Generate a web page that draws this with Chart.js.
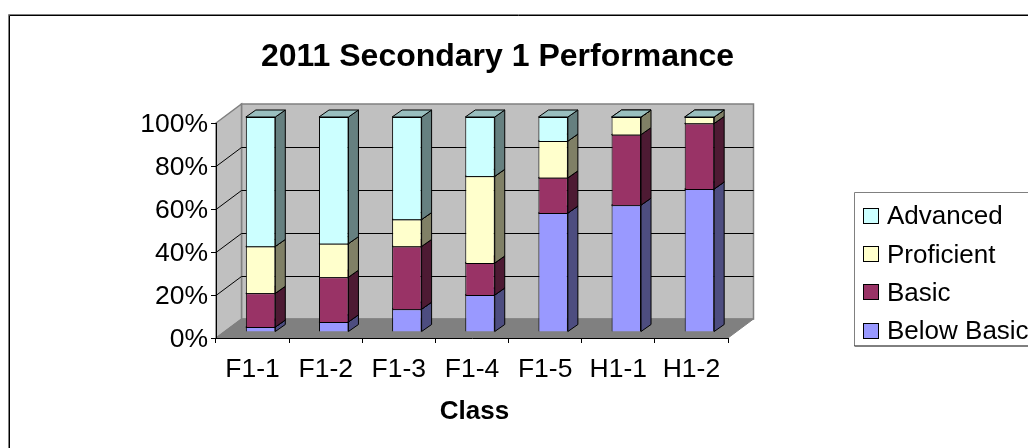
<!DOCTYPE html>
<html>
<head>
<meta charset="utf-8">
<style>html,body{margin:0;padding:0;background:#fff;overflow:hidden}canvas{display:block}</style>
<script src="https://cdn.jsdelivr.net/npm/chart.js@4"></script>
</head>
<body>
<canvas id="c" width="1028" height="448" style="width:1028px;height:448px"></canvas>
<script>
const categories = ['F1-1','F1-2','F1-3','F1-4','F1-5','H1-1','H1-2'];
const belowBasic = [2.3,4.7,10.6,17.2,55.3,59.0,66.5];
const basic      = [15.7,20.8,29.2,14.9,16.4,32.8,30.5];
const proficient = [21.8,15.6,12.5,40.3,17.1,8.2,3.0];
const advanced   = [60.2,58.9,47.7,27.6,11.2,0,0];
const yTicks = [0,20,40,60,80,100];
const FONT = "'Liberation Sans', Arial, sans-serif";
const WALL = {dx:25.5, dy:-19};
const BAR = {dx:8, dy:-6, depthX:10, depthY:-7};

function shade(hex, k){
  const n=parseInt(hex.slice(1),16);
  const f=v=>Math.round(v*k);
  return `rgb(${f(n>>16&255)},${f(n>>8&255)},${f(n&255)})`;
}
function poly(ctx, pts, fill, stroke, lw){
  ctx.beginPath();
  pts.forEach((p,i)=> i?ctx.lineTo(p[0],p[1]):ctx.moveTo(p[0],p[1]));
  ctx.closePath();
  if(fill){ctx.fillStyle=fill;ctx.fill();}
  if(stroke){ctx.strokeStyle=stroke;ctx.lineWidth=lw||1;ctx.stroke();}
}
const scene3d = {
  id:'scene3d',
  afterLayout(chart){
    const t=chart.titleBlock;
    if(t){t.left=0;t.right=995;}
    const xs=chart.scales.x;
    if(!xs._shifted){
      xs._shifted=true;
      const orig=xs.drawTitle;
      xs.drawTitle=function(){
        this.ctx.save();this.ctx.translate(2.5,0);orig.call(this);this.ctx.restore();
      };
    }
  },
  beforeDraw(chart){
    const ctx=chart.ctx, a=chart.chartArea, y=chart.scales.y;
    const {left:l,right:r,top:t,bottom:b}=a, dx=WALL.dx, dy=WALL.dy;
    ctx.save();
    ctx.fillStyle='#fff';ctx.fillRect(0,0,chart.width,chart.height);
    // outer frame
    ctx.lineWidth=1;
    ctx.strokeStyle='#808080';
    ctx.beginPath();ctx.moveTo(8.5,chart.height);ctx.lineTo(8.5,14.5);ctx.lineTo(chart.width,14.5);ctx.stroke();
    ctx.strokeStyle='#000';
    ctx.beginPath();ctx.moveTo(9.5,chart.height);ctx.lineTo(9.5,15.5);ctx.lineTo(chart.width,15.5);ctx.stroke();
    // walls and floor
    poly(ctx,[[l+dx,t+dy],[r+dx,t+dy],[r+dx,b+dy],[l+dx,b+dy]],'#C0C0C0','#808080',1.5);
    poly(ctx,[[l,t],[l+dx,t+dy],[l+dx,b+dy],[l,b]],'#C0C0C0','#808080',1.5);
    poly(ctx,[[l,b],[l+dx,b+dy],[r+dx,b+dy],[r,b]],'#808080','#808080',1);
    // gridlines on the side wall and back wall
    ctx.strokeStyle='#000';ctx.lineWidth=1;
    yTicks.forEach(v=>{
      if(v===0||v===100) return;
      const py=Math.round(y.getPixelForValue(v));
      ctx.beginPath();
      ctx.moveTo(l,py+.5);ctx.lineTo(l+dx,py+dy+.5);ctx.lineTo(r+dx,py+dy+.5);
      ctx.stroke();
    });
    // legend
    const lx=854.5, ly=192.5, lb=346;
    ctx.strokeStyle='#808080';ctx.lineWidth=1;
    ctx.beginPath();ctx.moveTo(chart.width,ly);ctx.lineTo(lx,ly);ctx.lineTo(lx,lb);ctx.stroke();
    ctx.strokeStyle='#000';
    ctx.beginPath();ctx.moveTo(lx,lb);ctx.lineTo(chart.width,lb);ctx.stroke();
    ctx.font='26px '+FONT;ctx.textBaseline='middle';ctx.textAlign='left';
    const ds=chart.data.datasets;
    ds.slice().reverse().forEach((d,i)=>{
      const cy=215+i*38.4, top=Math.round(cy-7.5);
      ctx.fillStyle=d.backgroundColor;ctx.fillRect(863.5,top+.5,15,15);
      ctx.strokeStyle='#000';ctx.lineWidth=1;ctx.strokeRect(863.5,top+.5,15,15);
      ctx.fillStyle='#000';ctx.fillText(d.label,887,cy+2);
    });
    ctx.restore();
  },
  beforeDatasetsDraw(chart){
    const ctx=chart.ctx, {dx,dy,depthX,depthY}=BAR;
    ctx.save();
    ctx.translate(dx,dy);
    chart.data.datasets.forEach((d,i)=>{
      chart.getDatasetMeta(i).data.forEach(el=>{
        const p=el.getProps(['x','y','base','width'],true);
        const xr=p.x+p.width/2, xl=p.x-p.width/2;
        poly(ctx,[[xr,p.base],[xr+depthX,p.base+depthY],[xr+depthX,p.y+depthY],[xr,p.y]],shade(d.backgroundColor,.5),'#000',1);
        poly(ctx,[[xl,p.y],[xl+depthX,p.y+depthY],[xr+depthX,p.y+depthY],[xr,p.y]],shade(d.backgroundColor,.75),'#000',1);
      });
    });
  },
  afterDatasetsDraw(chart){ chart.ctx.restore(); }
};

new Chart(document.getElementById('c'),{
  type:'bar',
  data:{labels:categories,datasets:[
    {label:'Below Basic',data:belowBasic,backgroundColor:'#9999FF'},
    {label:'Basic',data:basic,backgroundColor:'#993366'},
    {label:'Proficient',data:proficient,backgroundColor:'#FFFFCC'},
    {label:'Advanced',data:advanced,backgroundColor:'#CCFFFF'}
  ]},
  plugins:[scene3d],
  options:{
    responsive:false,animation:false,
    layout:{padding:{left:0,top:0,bottom:0,right:300}},
    datasets:{bar:{borderColor:'#000',borderWidth:1,categoryPercentage:.403,barPercentage:1,clip:false}},
    plugins:{
      legend:{display:false},
      tooltip:{enabled:false},
      title:{display:true,text:'2011 Secondary 1 Performance',color:'#000',
        font:{family:FONT,size:32,weight:'bold',lineHeight:1.2},padding:{top:38,bottom:46.6}}
    },
    scales:{
      x:{stacked:true,
        afterFit(s){s.height=110;},
        grid:{drawOnChartArea:false,drawTicks:true,tickLength:5,color:'#000',offset:true},
        border:{display:true,color:'#000',width:1},
        ticks:{color:'#000',font:{family:FONT,size:26.5},padding:11,maxRotation:0,autoSkip:false},
        title:{display:true,text:'Class',color:'#000',font:{family:FONT,size:26,weight:'bold'},padding:{top:0,bottom:21}}
      },
      y:{stacked:true,min:0,max:100,
        afterFit(s){s.width=216;},
        afterBuildTicks(s){s.ticks=yTicks.map(v=>({value:v}));},
        grid:{drawOnChartArea:false,drawTicks:true,tickLength:5,color:'#000'},
        border:{display:true,color:'#000',width:1},
        ticks:{color:'#000',font:{family:FONT,size:26.5},padding:3,labelOffset:2,callback:v=>v+'%'}
      }
    }
  }
});
</script>
</body>
</html>
